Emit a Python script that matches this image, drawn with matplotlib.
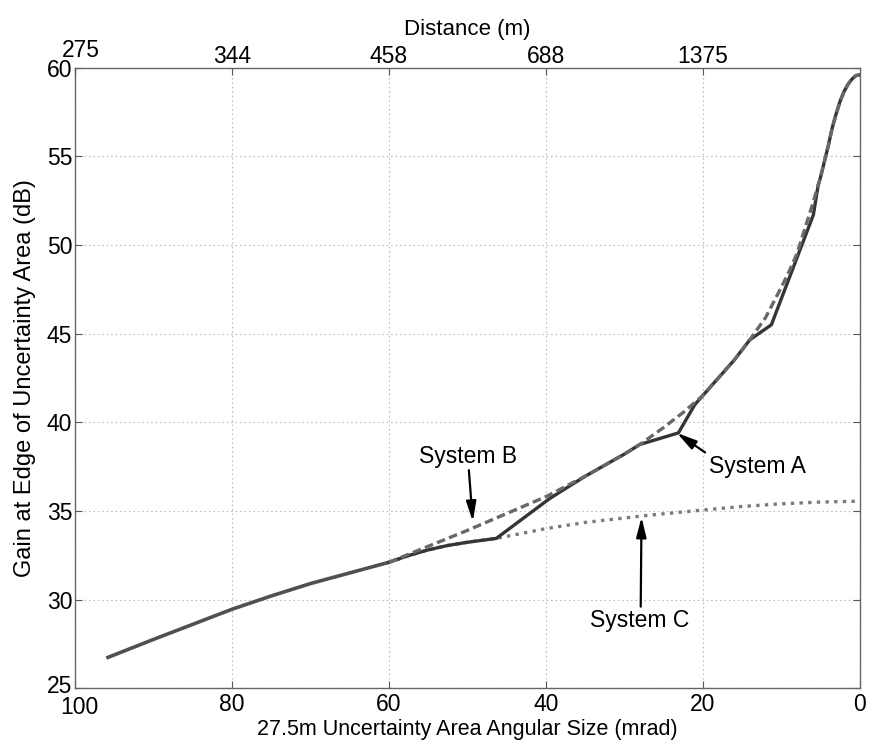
import numpy as np
import matplotlib
matplotlib.use("Agg")
import matplotlib.pyplot as plt
from matplotlib.transforms import ScaledTranslation

plt.rcParams['font.family'] = ['Liberation Sans', 'DejaVu Sans']

# Shared response at wide angles (all systems coincide)
common_x = [96, 90, 85, 80, 75, 70, 65, 60]
common_y = [26.7, 27.75, 28.6, 29.45, 30.2, 30.9, 31.5, 32.1]

# System B: smooth curve
b_x = [60, 55, 50, 45, 40, 35, 30, 28, 25, 22.5, 20, 18, 16, 14, 12, 10, 9, 8, 7, 6, 5,
       4, 3.5, 3, 2.5, 2, 1.5, 1, 0.5, 0]
b_y = [32.1, 33.0, 33.9, 34.85, 35.8, 36.95, 38.2, 38.75, 39.7, 40.55, 41.5, 42.5, 43.5, 44.65,
       45.9, 47.6, 48.5, 49.5, 50.9, 52.3, 53.8,
       55.6, 56.6, 57.4, 58.1, 58.65, 59.05, 59.35, 59.55, 59.6]

# System A: piecewise segments that rejoin System B
a_x = [60, 57.5, 55, 52.5, 50, 46.3, 39.5, 35, 30, 28, 23.1, 21.0, 20, 18, 16, 14, 11.25,
       5.9, 5.3, 5, 4, 3.5, 3, 2.5, 2, 1.5, 1, 0.5, 0]
a_y = [32.1, 32.48, 32.8, 33.05, 33.23, 33.45, 35.7, 36.95, 38.2, 38.75, 39.4, 41.0, 41.5,
       42.5, 43.5, 44.65, 45.5,
       51.7, 53.35, 53.8, 55.6, 56.6, 57.4, 58.1, 58.65, 59.05, 59.35, 59.55, 59.6]

# System C: flattens after the first break
c_x = [60, 57.5, 55, 52.5, 50, 46.3, 44, 40, 35, 30, 27, 20, 15, 10, 5, 0]
c_y = [32.1, 32.48, 32.8, 33.05, 33.23, 33.45, 33.65, 34.0, 34.35, 34.6, 34.75, 35.05, 35.25,
       35.4, 35.5, 35.55]

x_ticks = [100, 80, 60, 40, 20, 0]
y_ticks = [25, 30, 35, 40, 45, 50, 55, 60]
top_ticks = [100, 80, 60, 40, 20]
top_labels = ['275', '344', '458', '688', '1375']

fig = plt.figure(figsize=(8.71, 7.44), dpi=100)
ax = fig.add_axes([0.086, 0.075, 0.901, 0.834])

grid_kw = dict(color='#bdbdbd', lw=0.8, ls=(0, (1.5, 2.5)))
ax.grid(True, **grid_kw)
ax.set_axisbelow(True)

ax.plot(common_x, common_y, color='#505050', lw=2.6, solid_capstyle='butt', zorder=3)
ax.plot(c_x, c_y, color='#7a7a7a', lw=2.4, ls=(0, (1.0, 1.6)), zorder=3)
ax.plot(a_x, a_y, color='#353535', lw=2.4, zorder=4)
ax.plot(b_x, b_y, color='#686868', lw=2.4, ls=(0, (2.6, 1.3)), zorder=5)

ax.set_xlim(100, 0)
ax.set_ylim(25, 60)
ax.set_xticks(x_ticks)
ax.set_yticks(y_ticks)
ax.tick_params(direction='in', length=5, width=0.8, colors='#555555', labelcolor='black',
               labelsize=16.5, right=True, pad=2)
ax.tick_params(axis='x', pad=3.5)
for s in ax.spines.values():
    s.set_color('#666666')
    s.set_linewidth(1.0)

# keep the corner labels clear of each other
ax.get_yticklabels()[0].set_transform(
    ax.get_yticklabels()[0].get_transform() + ScaledTranslation(0, 0.04, fig.dpi_scale_trans))
ax.get_xticklabels()[0].set_transform(
    ax.get_xticklabels()[0].get_transform() + ScaledTranslation(0.04, -0.03, fig.dpi_scale_trans))

ax.set_xlabel('27.5m Uncertainty Area Angular Size (mrad)', fontsize=15.5, labelpad=0)
ax.set_ylabel('Gain at Edge of Uncertainty Area (dB)', fontsize=17, labelpad=8)

top = ax.twiny()
top.set_xlim(ax.get_xlim())
top.set_xticks(top_ticks)
top.set_xticklabels(top_labels)
top.tick_params(direction='in', length=5, width=0.8, colors='#555555', labelcolor='black',
                labelsize=16.5, pad=0)
top.get_xticklabels()[0].set_transform(
    top.get_xticklabels()[0].get_transform() + ScaledTranslation(0.06, 0.06, fig.dpi_scale_trans))
top.set_xlabel('Distance (m)', fontsize=16, labelpad=3)
for s in top.spines.values():
    s.set_visible(False)

arrow = dict(arrowstyle='-|>,head_length=1.2,head_width=0.3', color='black', lw=1.6,
             shrinkA=0, shrinkB=0)
ax.annotate('', xy=(49.3, 34.4), xytext=(49.8, 37.3), arrowprops=arrow, zorder=6)
ax.text(49.9, 38.05, 'System B', fontsize=16.5, ha='center', va='center')

ax.annotate('', xy=(23.3, 39.4), xytext=(19.7, 38.3), arrowprops=arrow, zorder=6)
ax.text(13.0, 37.5, 'System A', fontsize=16.5, ha='center', va='center')

ax.annotate('', xy=(27.8, 34.65), xytext=(27.9, 29.6), arrowprops=arrow, zorder=6)
ax.text(28.0, 28.84, 'System C', fontsize=16.5, ha='center', va='center')

fig.savefig('out.png', dpi=100)
